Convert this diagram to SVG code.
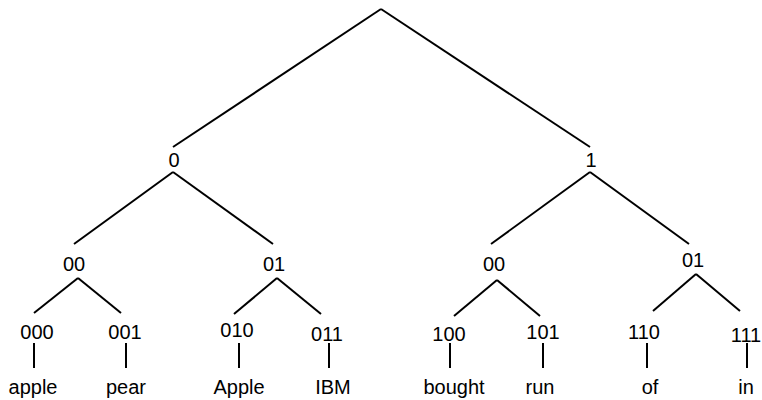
<svg xmlns="http://www.w3.org/2000/svg" width="762" height="400" viewBox="0 0 762 400">
<style>
text{font-family:"Liberation Sans",Arial,sans-serif;font-size:20px;fill:#000;text-anchor:middle}
.e line{stroke:#000;stroke-width:2;stroke-linecap:butt}
</style>
<rect width="762" height="400" fill="#fff"/>
<g class="e" id="connectors">
<line x1="381" y1="9" x2="173" y2="147"/>
<line x1="381" y1="9" x2="590" y2="147"/>
<line x1="173" y1="172" x2="74" y2="244"/>
<line x1="173" y1="172" x2="273" y2="244"/>
<line x1="590" y1="172" x2="491" y2="244"/>
<line x1="590" y1="172" x2="689" y2="244"/>
<line x1="78" y1="278" x2="34" y2="313"/>
<line x1="78" y1="278" x2="121" y2="313"/>
<line x1="277" y1="278" x2="234" y2="314"/>
<line x1="277" y1="278" x2="321" y2="314"/>
<line x1="497" y1="280" x2="454" y2="316"/>
<line x1="497" y1="280" x2="540" y2="316"/>
<line x1="696" y1="274" x2="653" y2="311"/>
<line x1="696" y1="274" x2="740" y2="311"/>
<line x1="34" y1="343" x2="34" y2="368"/>
<line x1="126" y1="343" x2="126" y2="368"/>
<line x1="239" y1="343" x2="239" y2="368"/>
<line x1="329" y1="343" x2="329" y2="368"/>
<line x1="450" y1="343" x2="450" y2="368"/>
<line x1="543" y1="343" x2="543" y2="368"/>
<line x1="647" y1="343" x2="647" y2="368"/>
<line x1="747" y1="343" x2="747" y2="368"/>
</g>
<g id="n0"><text x="174" y="167">0</text></g>
<g id="n1"><text x="591" y="167">1</text></g>
<g id="n00L"><text x="74" y="271">00</text></g>
<g id="n01L"><text x="274" y="271">01</text></g>
<g id="n00R"><text x="494" y="271">00</text></g>
<g id="n01R"><text x="693" y="267">01</text></g>
<g id="n000"><text x="37" y="339">000</text></g>
<g id="n001"><text x="125" y="339">001</text></g>
<g id="n010"><text x="237" y="337">010</text></g>
<g id="n011"><text x="327" y="341">011</text></g>
<g id="n100"><text x="449" y="341">100</text></g>
<g id="n101"><text x="543" y="339">101</text></g>
<g id="n110"><text x="644" y="339">110</text></g>
<g id="n111"><text x="746" y="342">111</text></g>
<g id="w-apple"><text x="33" y="394">apple</text></g>
<g id="w-pear"><text x="126" y="394">pear</text></g>
<g id="w-Apple"><text x="239" y="394">Apple</text></g>
<g id="w-IBM"><text x="333" y="394">IBM</text></g>
<g id="w-bought"><text x="454" y="394">bought</text></g>
<g id="w-run"><text x="540" y="394">run</text></g>
<g id="w-of"><text x="650" y="394">of</text></g>
<g id="w-in"><text x="746" y="394">in</text></g>
</svg>
